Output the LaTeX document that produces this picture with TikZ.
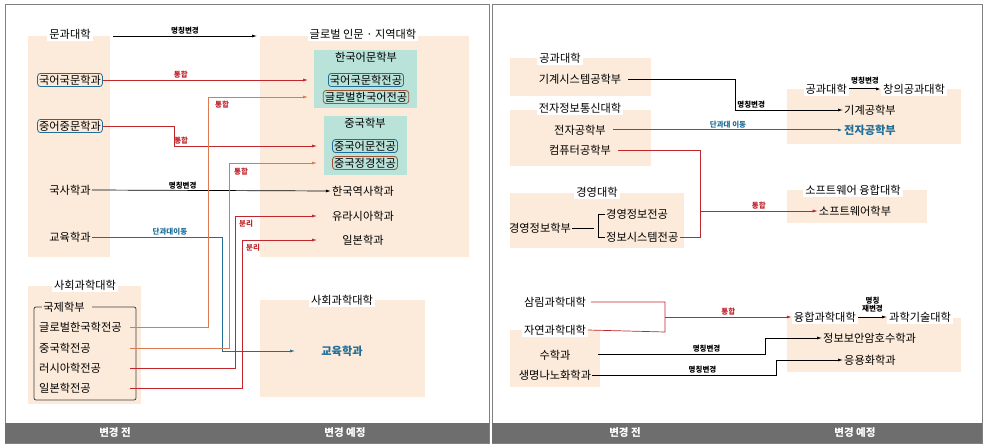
\documentclass[tikz,border=0pt]{standalone}
\usepackage{fontspec}
\setmainfont{Noto Sans CJK KR}
\usetikzlibrary{arrows.meta,positioning}
\definecolor{beige}{HTML}{FCEBDA}
\definecolor{teal}{HTML}{B9E2D8}
\definecolor{redln}{HTML}{C0272D}
\definecolor{orln}{HTML}{DC7A52}
\definecolor{blueln}{HTML}{1F6E99}
\definecolor{bar}{HTML}{6E6E6E}
\tikzset{
  bg/.style={fill=beige,draw=none},
  sub/.style={fill=teal,draw=none},
  item/.style={font=\fontsize{11.2}{12}\selectfont,inner sep=1pt},
  ttl/.style={item,fill=white,inner sep=2pt},
  tag/.style={font=\fontsize{7.5}{9}\selectfont\bfseries,inner sep=1pt},
  bluebox/.style={draw=blueln,thick,rounded corners=3pt,inner sep=1.5pt},
  brownbox/.style={draw=orln!70!black,thick,rounded corners=3pt,inner sep=1.5pt},
  arr/.style={-{Latex[length=5pt,width=3pt]},line width=0.7pt},
}
\begin{document}
\begin{tikzpicture}[x=1pt,y=-1pt]
\useasboundingbox (0,0) rectangle (987,446);
\draw[gray,line width=1pt] (5,5) rectangle (489,443);
\draw[gray,line width=1pt] (492,5) rectangle (982,443);
\fill[bar] (5,423) rectangle (489,443);
\fill[bar] (492,423) rectangle (982,443);
\begin{scope}[every node/.style={text=white,font=\fontsize{10.5}{12}\selectfont\bfseries}]
	\node at (115,433) {변경 전};
	\node at (345,433) {변경 예정};
	\node at (625,433) {변경 전};
	\node at (855,433) {변경 예정};
\end{scope}

% left panel
\fill[bg] (28,36) rectangle (110,257);
\fill[bg] (260,36) rectangle (469,257);
\fill[sub] (314,50) rectangle (417,108);
\fill[sub] (324,116) rectangle (407,175);
\fill[bg] (28,286) rectangle (141,404);
\fill[bg] (260,300) rectangle (425,397);

\node[ttl] (mungwa) at (70,34) {문과대학};
\node[item,bluebox] (gukeo) at (70,80) {국어국문학과};
\node[item,bluebox] (jungeo) at (70,126) {중어중문학과};
\node[item] (guksa) at (70,190) {국사학과};
\node[item] (gyoyuk) at (70,237) {교육학과};

\node[ttl] (global) at (363,34) {글로벌 인문 · 지역대학};
\node[item,fill=teal,inner sep=2pt] (hanbu) at (366,57) {한국어문학부};
\node[item,bluebox] (gukeojg) at (366,80) {국어국문학전공};
\node[item,brownbox] (globalhk) at (366,97) {글로벌한국어전공};
\node[item,fill=teal,inner sep=2pt] (jungbu) at (365,123) {중국학부};
\node[item,bluebox] (jungeojg) at (365,146) {중국어문전공};
\node[item,brownbox] (jungjeong) at (365,163) {중국정경전공};
\node[item] (hanyeoksa) at (363,191) {한국역사학과};
\node[item] (eurasia) at (363,216) {유라시아학과};
\node[item] (ilbon) at (363,240) {일본학과};

\node[ttl] (sahoe) at (85,285) {사회과학대학};
\draw[thick,black!75,rounded corners=2pt] (42,307) -- (34,307) -- (34,400) -- (136,400) -- (136,307) -- (92,307);
\node[item,fill=beige] (gukje) at (64,307) {국제학부};
\node[item,anchor=west] (globalhkj) at (38,327) {글로벌한국학전공};
\node[item,anchor=west] (junghk) at (38,348) {중국학전공};
\node[item,anchor=west] (russia) at (38,368) {러시아학전공};
\node[item,anchor=west] (ilbonj) at (38,388) {일본학전공};

\node[ttl] (sahoe2) at (342,300) {사회과학대학};
\node[item,text=blueln,font=\fontsize{11.2}{12}\selectfont\bfseries] (gyoyuk2) at (342,351) {교육학과};

\coordinate (l1) at (257,36);
\draw[arr] (113,36) -- node[tag,above] {명칭변경} (l1);
\draw[arr,redln] (gukeo.east) -- node[tag,above,pos=0.38] {통합} (gukeojg.west-|308,0);
\draw[arr,redln] (jungeo.east) -| (174,146) -- node[tag,above,pos=0.05] {통합} (jungeojg.west-|317,0);
\draw[arr] (guksa.east) -- node[tag,above,pos=0.38] {명칭변경} (hanyeoksa.west);
\draw[arr,blueln] (gyoyuk.east) -- node[tag,above,pos=0.6,text=blueln] {단과대이동} (222,237) |- (gyoyuk2.west-|295,0);
\draw[arr,orln] (130,327) -| (208,97) -- (globalhk.west-|308,0);
\node[tag,text=redln] at (222,105) {통합};
\draw[arr,orln] (130,348) -| (229,163) -- (jungjeong.west-|317,0);
\node[tag,text=redln] at (241,172) {통합};
\draw[arr,redln] (130,368) -| (235,216) -- (eurasia.west-|317,0);
\node[tag,text=redln] at (246,224) {분리};
\draw[arr,redln] (130,388) -| (242,240) -- (ilbon.west-|317,0);
\node[tag,text=redln] at (253,248) {분리};

% right panel
\fill[bg] (510,58) rectangle (651,96);
\fill[bg] (510,110) rectangle (651,166);
\fill[bg] (510,193) rectangle (684,248);
\fill[bg] (787,89) rectangle (961,144);
\fill[bg] (787,190) rectangle (927,223);
\fill[bg] (510,330) rectangle (600,387);
\fill[bg] (787,318) rectangle (961,372);

\node[ttl] (gonggwa) at (560,58) {공과대학};
\node[item] (gigye) at (580,79) {기계시스템공학부};
\node[ttl] (jeonja) at (580,108) {전자정보통신대학};
\node[item] (jeonjahb) at (580,130) {전자공학부};
\node[item] (computer) at (580,150) {컴퓨터공학부};
\node[ttl] (gyeongyeong) at (597,192) {경영대학};
\node[item] (gyjb) at (540,228) {경영정보학부};
\node[item,anchor=west] (gyjbj) at (605,214) {경영정보전공};
\node[item,anchor=west] (jbsys) at (605,237) {정보시스템전공};
\draw[thick] (gyjb.east) -- (594,228) (gyjbj.west) -| (598,237) -- (jbsys.west);

\node[ttl,anchor=east] (gonggwa2) at (849,89) {공과대학};
\node[ttl,anchor=west] (changui) at (881,89) {창의공과대학};
\draw[arr,line width=1pt] (gonggwa2.east) -- node[tag,above=3pt] {명칭변경} (changui.west);
\node[item,anchor=west] (gigye2) at (843,110) {기계공학부};
\node[item,anchor=west,text=blueln,font=\fontsize{11.2}{12}\selectfont\bfseries] (jeonja2) at (843,130) {전자공학부};
\node[ttl] (sw) at (853,190) {소프트웨어 융합대학};
\node[item] (swhb) at (855,211) {소프트웨어학부};

\draw[arr] (gigye.east)++(6,0) -| (735,110) -- node[tag,above,pos=0.15] {명칭변경} (gigye2.west);
\draw[arr,blueln,line width=1pt] (jeonjahb.east)++(6,0) -- node[tag,above,text=blueln] {단과대 이동} (jeonja2.west);
\draw[redln,line width=0.7pt] (computer.east)++(6,0) -| (700,237) -- (jbsys.east);
\draw[arr,redln] (700,211) -- node[tag,above,text=redln] {통합} (swhb.west);

\node[item] (samrim) at (555,302) {삼림과학대학};
\node[ttl] (jayeon) at (555,330) {자연과학대학};
\node[item] (suhak) at (555,355) {수학과};
\node[item] (saengmyeong) at (555,375) {생명나노화학과};
\node[ttl,anchor=east] (yunghap) at (858,317) {융합과학대학};
\node[ttl,anchor=west] (gwagi) at (887,317) {과학기술대학};
\draw[arr] (yunghap.east) -- node[tag,above=3pt,align=center,font=\fontsize{7.5}{8}\selectfont\bfseries] {명칭\\재변경} (gwagi.west);
\node[item,anchor=west] (jbam) at (822,338) {정보보안암호수학과};
\node[item,anchor=west] (eungyong) at (843,360) {응용화학과};

\draw[redln,line width=0.7pt] (samrim.east)++(4,0) -| (665,332) -- (jayeon.east);
\draw[arr,redln] (665,317) -- node[tag,above,text=redln] {통합} (yunghap.west);
\draw[arr] (598,354) -- node[tag,above,pos=0.65] {명칭변경} (765,354) |- (jbam.west);
\draw[arr] (saengmyeong.east) -- node[tag,above,pos=0.6] {명칭변경} (776,375) |- (eungyong.west);
\end{tikzpicture}
\end{document}
